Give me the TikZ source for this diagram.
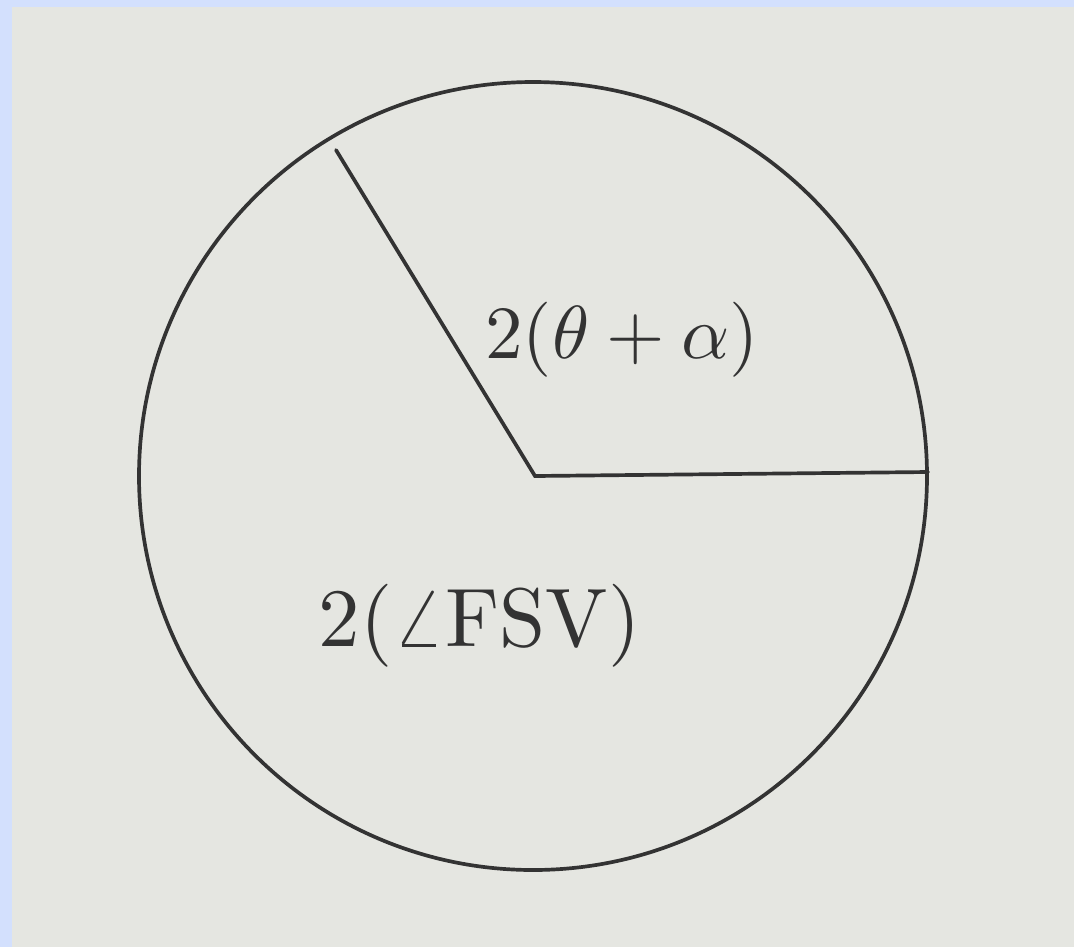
\documentclass[tikz,border=0pt]{standalone}
\usepackage{amsmath}
\usepackage{tikz}
\usetikzlibrary{positioning}
\definecolor{rahmen}{HTML}{D3E0FD}
\definecolor{papier}{HTML}{E5E6E1}
\definecolor{tinte}{HTML}{333333}
\tikzstyle{stift} = [line width=2.1pt, draw=tinte, line cap=round]
\tikzstyle{winkel} = [text=tinte, scale=4.5, transform shape, inner sep=0pt]

\begin{document}
\begin{tikzpicture}[x=0.02cm, y=-0.02cm]
	% Hintergrund und Rahmen
	\fill[rahmen] (0, 0) rectangle (1074, 947); % Rahmen
	\fill[papier] (12, 7) rectangle (1074, 947); % Papier
	\useasboundingbox (0, 0) rectangle (1074, 947);
	% Punkte
	\coordinate (M) at (535, 476); % Mittelpunkt
	\coordinate (R) at (928, 472); % Ende rechter Radius
	\coordinate (T) at (336, 150); % Ende oberer Radius
	% Kreis und Radien
	\draw[stift] (533, 476) circle[radius=394]; % Kreis
	\draw[stift] (T) -- (M) -- (R); % Radien
	% Beschriftungen
	\node[winkel, scale=0.95] (oben) at (622, 340) {$2(\theta+\alpha)$}; % oberer Winkel
	\node[winkel, scale=1.05] (unten) at (480, 626) {$2(\angle\mathrm{FSV})$}; % unterer Winkel
\end{tikzpicture}
\end{document}
